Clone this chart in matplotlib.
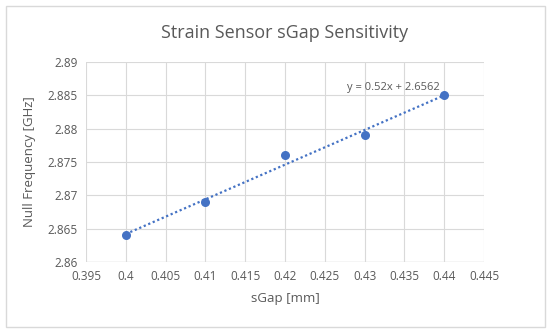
import matplotlib.pyplot as plt
import numpy as np
from matplotlib.patches import Rectangle

# data
sgap = [0.40, 0.41, 0.42, 0.43, 0.44]
freq = [2.864, 2.869, 2.876, 2.879, 2.885]
slope = 0.52
intercept = 2.6562

blue = '#4472C4'
txt = '#595959'
grid = '#D9D9D9'

plt.rcParams['font.family'] = ['Open Sans', 'DejaVu Sans']

fig = plt.figure(figsize=(5.5, 3.36), dpi=100)
fig.patches.append(Rectangle((6/550, 9/336), 539/550, 321/336, transform=fig.transFigure,
                             fill=False, edgecolor='#D9D9D9', linewidth=1))
ax = fig.add_axes([86/550, 74/336, 398/550, 200/336])

xs = np.array([sgap[0], sgap[-1]])
ax.plot(xs, slope * xs + intercept, color=blue, linestyle=(0, (1, 1.2)), linewidth=1.6, zorder=2)
ax.scatter(sgap, freq, s=30, color=blue, zorder=3)

ax.set_xlim(0.395, 0.445)
ax.set_ylim(2.86, 2.89)
ax.set_xticks(np.arange(0.395, 0.4451, 0.005))
ax.set_xticklabels(['0.395', '0.4', '0.405', '0.41', '0.415', '0.42', '0.425',
                    '0.43', '0.435', '0.44', '0.445'])
ax.set_yticks([2.86, 2.865, 2.87, 2.875, 2.88, 2.885, 2.89])
ax.set_yticklabels(['2.86', '2.865', '2.87', '2.875', '2.88', '2.885', '2.89'])
ax.grid(True, color=grid, linewidth=0.8)
ax.set_axisbelow(True)
for s in ax.spines.values():
    s.set_visible(False)
ax.tick_params(length=0, colors=txt, labelsize=8.5, pad=6)
ax.axhline(2.86, color=grid, linewidth=1, zorder=1)

ax.set_xlabel('sGap [mm]', color=txt, fontsize=9.5, labelpad=6)
ax.set_ylabel('Null Frequency [GHz]', color=txt, fontsize=9.5, labelpad=8)
ax.set_title('Strain Sensor sGap Sensitivity', color=txt, fontsize=13, pad=17)

ax.annotate('y = 0.52x + 2.6562', xy=(sgap[-1], freq[-1]), xytext=(-3, 2),
            textcoords='offset points', ha='right', va='bottom', color=txt, fontsize=8)

fig.savefig('out.png', dpi=100)
